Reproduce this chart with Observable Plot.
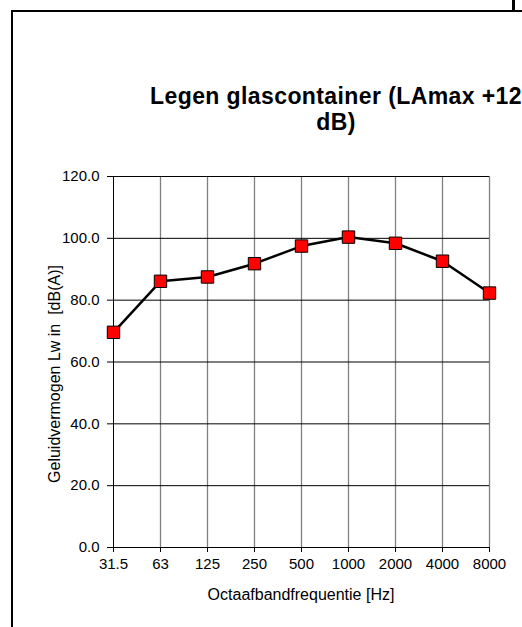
<!DOCTYPE html>
<html>
<head>
<meta charset="utf-8">
<script src="https://cdn.jsdelivr.net/npm/d3@7"></script>
<script src="https://cdn.jsdelivr.net/npm/@observablehq/plot@0.6"></script>
<style>
  html, body { margin: 0; padding: 0; background: #fff; overflow: hidden; width: 522px; height: 627px; }
  #wrap { position: relative; width: 522px; height: 627px; font-family: "Liberation Sans", Arial, sans-serif; overflow: hidden; }
  #frame { position: absolute; left: 11px; top: 10px; width: 700px; height: 800px; border-left: 2px solid #000; border-top: 2px solid #000; }
  #corner { position: absolute; left: 512px; top: 0; width: 3px; height: 11px; background: #000; }
  #title { position: absolute; left: 136px; width: 400px; top: 83px; text-align: center; font-weight: bold; font-size: 23px; line-height: 26px; letter-spacing: 0.4px; color: #000; white-space: nowrap; }
  #chart { position: absolute; left: 0; top: 0; }
  #chart svg { overflow: visible; }
</style>
</head>
<body>
<div id="wrap">
  <div id="frame"></div>
  <div id="corner"></div>
  <div id="chart"></div>
  <div id="title"></div>
</div>
<script>
const titleLines = ["Legen glascontainer (LAmax +12", "dB)"];
const freqLabels = ["31.5", "63", "125", "250", "500", "1000", "2000", "4000", "8000"];
const levels = [69.6, 86.1, 87.5, 91.8, 97.5, 100.4, 98.4, 92.6, 82.3];
const yTicks = [0, 20, 40, 60, 80, 100, 120];
const xLabel = "Octaafbandfrequentie [Hz]";
const yLabel = "Geluidvermogen Lw in  [dB(A)]";

const data = freqLabels.map((f, i) => ({ f, v: levels[i] }));

document.getElementById("title").innerHTML = titleLines.join("<br>");

const chart = Plot.plot({
  width: 522,
  height: 627,
  marginLeft: 112,
  marginRight: 33,
  marginTop: 176,
  marginBottom: 80,
  style: { fontFamily: "'Liberation Sans', Arial, sans-serif", fontSize: "15px", color: "#000", background: "transparent" },
  x: { type: "point", domain: freqLabels, padding: 0 },
  y: { domain: [0, 120] },
  marks: [
    Plot.ruleX(freqLabels.slice(1), { stroke: "#808080", strokeWidth: 1.3 }),
    Plot.ruleY(yTicks.slice(1), { stroke: "#000", strokeWidth: 1 }),
    Plot.ruleX(freqLabels.slice(0, 1), { stroke: "#000", strokeWidth: 1 }),
    Plot.ruleY([0], { stroke: "#000", strokeWidth: 1 }),
    Plot.axisY({ ticks: yTicks, tickFormat: d3.format(".1f"), tickSize: 5, tickPadding: 8, fontSize: 15, label: null, stroke: "#000" }),
    Plot.axisX({ tickSize: 5, tickPadding: 6, fontSize: 15, label: null, stroke: "#000" }),
    Plot.line(data, { x: "f", y: "v", stroke: "#000", strokeWidth: 2.5 }),
    Plot.dot(data, { x: "f", y: "v", symbol: "square", r: 7, fill: "#FF0000", stroke: "#000", strokeWidth: 1 }),
    Plot.text([xLabel], { text: d => d, frameAnchor: "bottom", dy: 47, fontSize: 16, lineAnchor: "middle", fill: "#000" }),
    Plot.text([yLabel], { text: d => d, frameAnchor: "left", textAnchor: "middle", dx: -58, dy: 12, rotate: -90, fontSize: 16, lineAnchor: "middle", fill: "#000" })
  ]
});
document.getElementById("chart").appendChild(chart);
</script>
</body>
</html>
